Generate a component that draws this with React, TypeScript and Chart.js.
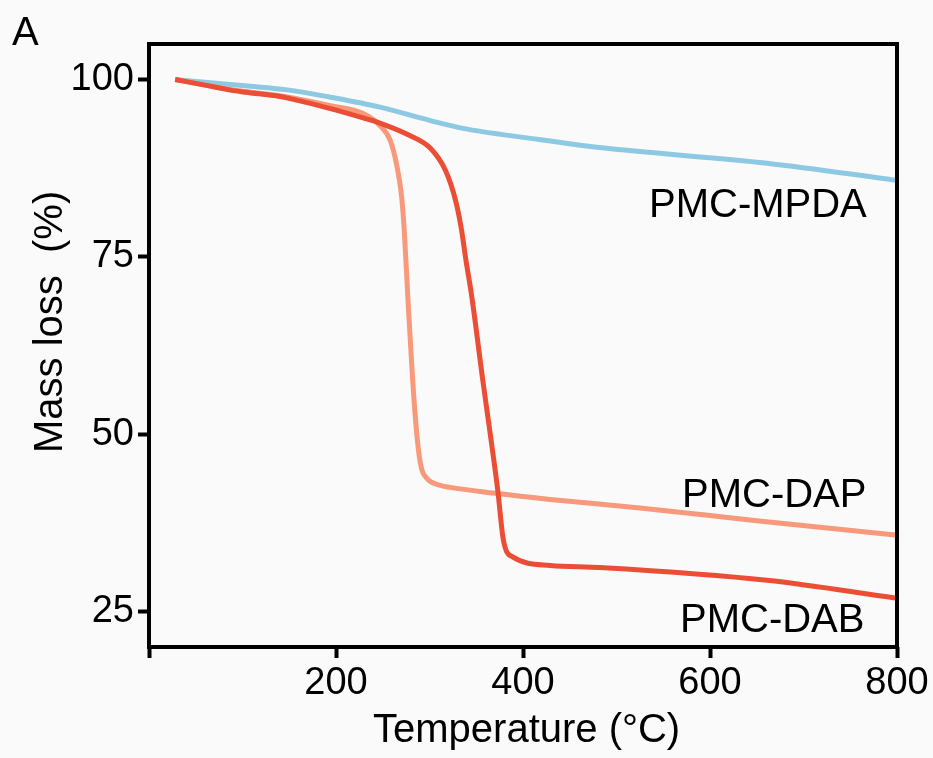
import React, { useEffect, useRef } from "react";
import { Chart, registerables } from "chart.js";

Chart.register(...registerables);

// ---- data ----
const dabTemp = [28, 60, 87, 103, 140, 151, 194, 229, 244, 279, 301, 317, 328, 334, 339, 345, 357, 365, 373, 379, 389, 429, 482, 661, 798];
const dabMass = [100, 99.2, 98.5, 98.2, 97.6, 97.3, 95.9, 94.6, 94.0, 92.1, 90.3, 87.2, 82.9, 79.0, 74.5, 69.6, 57.6, 50.0, 42.1, 35.1, 32.7, 31.5, 31.2, 29.4, 26.9];

const dapTemp = [28, 60, 87, 103, 140, 194, 229, 247, 258, 265, 270, 273, 277, 282, 287, 291, 297, 311, 322, 368, 429, 525, 650, 798];
const dapMass = [100, 99.2, 98.6, 98.3, 97.7, 96.3, 95.2, 93.5, 91.4, 87.9, 83.7, 78.7, 68.9, 57.6, 49.2, 45.4, 43.8, 42.8, 42.5, 41.7, 40.8, 39.6, 37.8, 35.8];

const mpdaTemp = [28, 60, 103, 150, 194, 247, 301, 336, 408, 482, 661, 798];
const mpdaMass = [100, 99.6, 99.1, 98.5, 97.5, 96.1, 94.2, 93.1, 91.7, 90.4, 88.2, 85.8];

const seriesNames = ["PMC-DAB", "PMC-DAP", "PMC-MPDA"];
const xTickValues = [0, 200, 400, 600, 800];
const yTickValues = [25, 50, 75, 100];
const xTitle = "Temperature (°C)";
const yTitle = "Mass loss  (%)";
const panelLabel = "A";

const FONT = '"Liberation Sans", Arial, Helvetica, sans-serif';
const COLORS = ["#EC4D35", "#F7997A", "#8EC9E3"];

const toPoints = (t: number[], m: number[]) => t.map((x, i) => ({ x, y: m[i] }));

const annotationPlugin = {
  id: "annotations",
  afterDraw(chart: any) {
    const { ctx, chartArea: a } = chart;
    ctx.save();
    // frame
    ctx.lineWidth = 4;
    ctx.strokeStyle = "#000";
    ctx.strokeRect(a.left, a.top, a.right - a.left, a.bottom - a.top);

    ctx.fillStyle = "#000";
    ctx.textAlign = "left";
    ctx.textBaseline = "alphabetic";
    ctx.font = `40px ${FONT}`;
    ctx.fillText(panelLabel, 12, 45);

    // series labels
    ctx.fillText(seriesNames[2], a.right - 248, a.top + 173);
    ctx.fillText(seriesNames[1], a.right - 215, a.top + 463);
    ctx.fillText(seriesNames[0], a.right - 217, a.bottom - 15);

    // y title
    ctx.save();
    ctx.translate(62, 453);
    ctx.rotate(-Math.PI / 2);
    ctx.fillText(yTitle, 0, 0);
    ctx.restore();

    // x title
    ctx.fillText(xTitle, 373, 742);
    ctx.restore();
  },
};

export default function App() {
  const ref = useRef<HTMLCanvasElement | null>(null);

  useEffect(() => {
    if (!ref.current) return;
    const datasets = [
      { label: seriesNames[0], data: toPoints(dabTemp, dabMass), borderColor: COLORS[0], order: 0 },
      { label: seriesNames[1], data: toPoints(dapTemp, dapMass), borderColor: COLORS[1], order: 1 },
      { label: seriesNames[2], data: toPoints(mpdaTemp, mpdaMass), borderColor: COLORS[2], order: 2 },
    ].map((d) => ({
      ...d,
      borderWidth: 5,
      pointRadius: 0,
      fill: false,
      cubicInterpolationMode: "monotone" as const,
    }));

    const tickFont = { family: FONT, size: 38 };
    const chart = new Chart(ref.current, {
      type: "line",
      data: { datasets },
      plugins: [annotationPlugin],
      options: {
        animation: false,
        responsive: false,
        devicePixelRatio: 1,
        layout: { padding: { left: 0, top: 44, right: 36, bottom: 0 } },
        plugins: { legend: { display: false }, tooltip: { enabled: false } },
        scales: {
          x: {
            type: "linear",
            min: 0,
            max: 800,
            afterBuildTicks: (s: any) => {
              s.ticks = xTickValues.map((v) => ({ value: v }));
            },
            afterFit: (s: any) => {
              s.height = 111;
            },
            ticks: {
              font: tickFont,
              color: "#000",
              padding: 3,
              maxRotation: 0,
              callback: (v: any) => (v === 0 ? "" : String(v)),
            },
            grid: { drawOnChartArea: false, drawTicks: true, tickLength: 11, tickWidth: 4, tickColor: "#000" },
            border: { display: false },
          },
          y: {
            type: "linear",
            min: 20,
            max: 105,
            afterBuildTicks: (s: any) => {
              s.ticks = yTickValues.map((v) => ({ value: v }));
            },
            afterFit: (s: any) => {
              s.width = 149;
            },
            ticks: { font: tickFont, color: "#000", padding: 4 },
            grid: { drawOnChartArea: false, drawTicks: true, tickLength: 11, tickWidth: 4, tickColor: "#000" },
            border: { display: false },
          },
        },
      },
    });
    return () => chart.destroy();
  }, []);

  return (
    <div style={{ position: "absolute", left: 0, top: 0, width: 933, height: 758, background: "#fafafa" }}>
      <canvas ref={ref} width={933} height={758} style={{ display: "block" }} />
    </div>
  );
}
